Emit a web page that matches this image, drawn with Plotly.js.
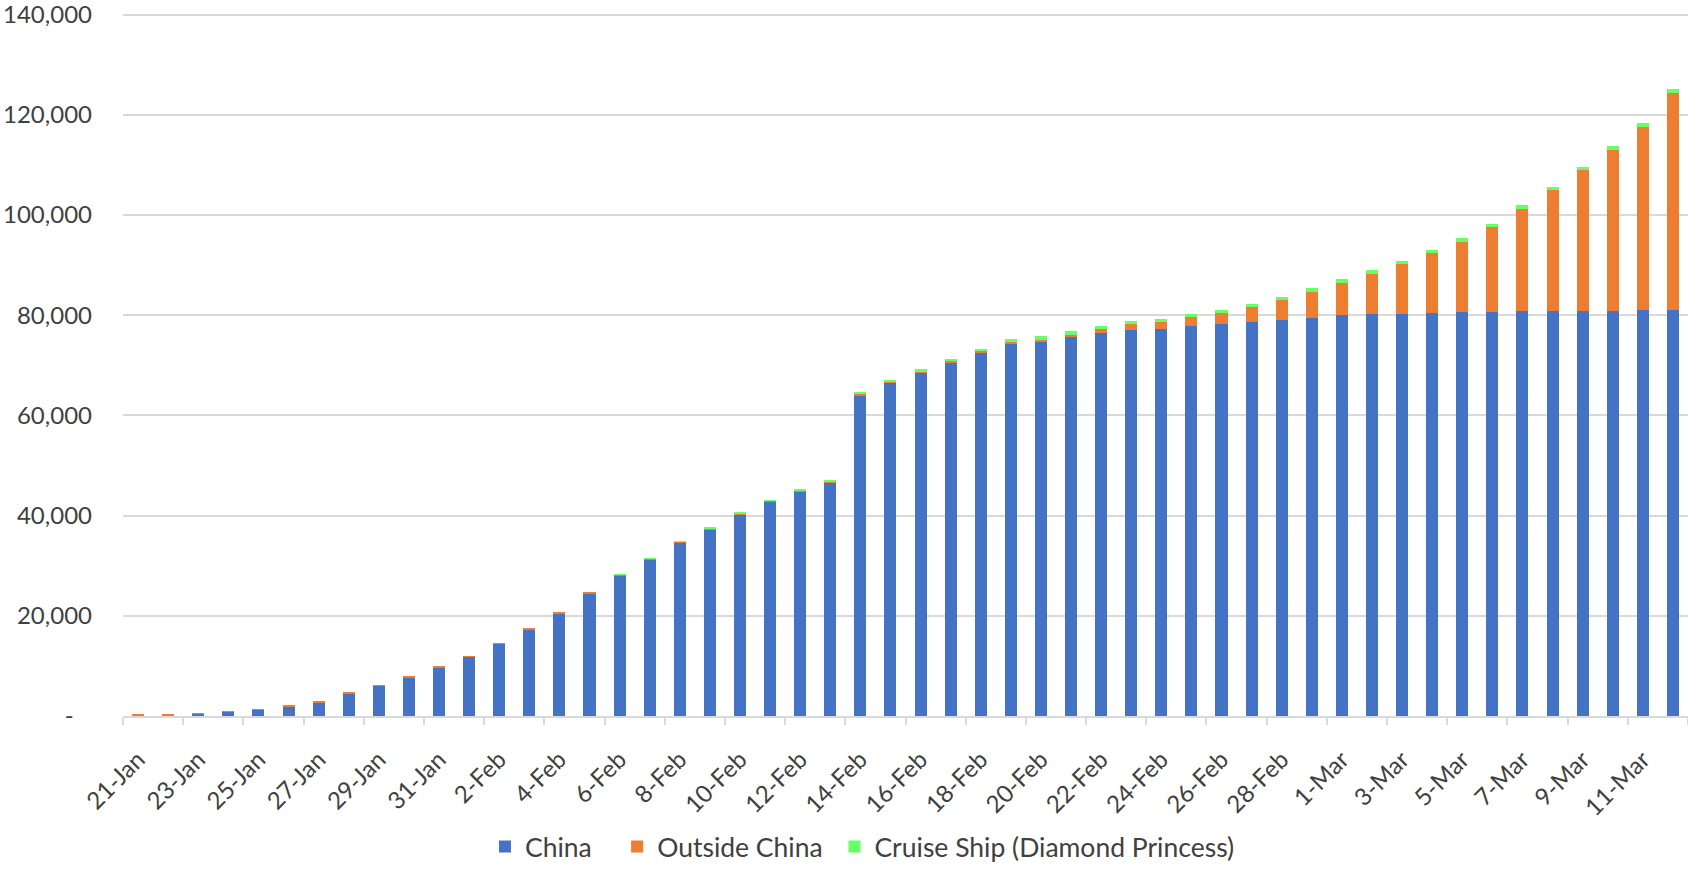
<!DOCTYPE html>
<html>
<head>
<meta charset="utf-8">
<script src="https://cdn.plot.ly/plotly-3.0.1.min.js"></script>
<style>
  html, body { margin: 0; padding: 0; background: #ffffff; }
  #chart { width: 1688px; height: 871px; }
</style>
</head>
<body>
<div id="chart"></div>
<script>
// Dates (categories)
const dates = [
  "21-Jan","22-Jan","23-Jan","24-Jan","25-Jan","26-Jan","27-Jan","28-Jan","29-Jan","30-Jan","31-Jan",
  "1-Feb","2-Feb","3-Feb","4-Feb","5-Feb","6-Feb","7-Feb","8-Feb","9-Feb","10-Feb",
  "11-Feb","12-Feb","13-Feb","14-Feb","15-Feb","16-Feb","17-Feb","18-Feb","19-Feb","20-Feb",
  "21-Feb","22-Feb","23-Feb","24-Feb","25-Feb","26-Feb","27-Feb","28-Feb","29-Feb",
  "1-Mar","2-Mar","3-Mar","4-Mar","5-Mar","6-Mar","7-Mar","8-Mar","9-Mar","10-Mar","11-Mar","12-Mar"
];

// Confirmed cases – China
const china = [
  0, 0, 571, 830, 1297, 1985, 2761, 4537, 5997, 7736, 9720,
  11821, 14411, 17238, 20471, 24363, 28060, 31211, 34598, 37251, 40235,
  42708, 44730, 46550, 63950, 66492, 68500, 70548, 72528, 74280, 74675,
  75569, 76392, 77041, 77262, 77780, 78191, 78630, 78959, 79394,
  79968, 80174, 80304, 80422, 80565, 80711, 80813, 80859, 80904, 80924, 80955, 80981
];

// Confirmed cases – Outside China (excluding cruise ship)
const outside = [
  282, 314, 10, 16, 23, 29, 37, 56, 68, 82, 106,
  132, 146, 153, 159, 191, 196, 209, 224, 237, 184,
  260, 266, 272, 322, 290, 328, 340, 262, 303, 439,
  566, 768, 1135, 1378, 1768, 2213, 2959, 3986, 5304,
  6464, 8068, 9860, 11962, 14062, 16785, 20414, 24031, 27978, 32082, 36668, 43371
];

// Confirmed cases – Cruise Ship (Diamond Princess)
const ship = [
  0, 0, 0, 0, 0, 0, 0, 0, 0, 0, 0,
  0, 0, 0, 0, 0, 20, 61, 64, 70, 135,
  135, 175, 175, 218, 285, 355, 454, 542, 621, 634,
  634, 634, 634, 691, 691, 705, 705, 705, 705,
  705, 706, 706, 706, 706, 696, 696, 696, 696, 696, 696, 696
];

// Y axis ticks
const yTickVals = [0, 20000, 40000, 60000, 80000, 100000, 120000, 140000];
const yTickText = ["-\u00a0\u00a0\u00a0", "20,000", "40,000", "60,000", "80,000", "100,000", "120,000", "140,000"];

const seriesNames = ["China", "Outside China", "Cruise Ship (Diamond Princess)"];
const legendPad = ["\u00a0\u00a0\u00a0", "\u00a0", ""];
const seriesColors = ["#4472C4", "#ED7D31", "#66FF66"];
const seriesValues = [china, outside, ship];

const traces = seriesValues.map((vals, i) => ({
  type: "bar",
  name: seriesNames[i] + legendPad[i],
  x: dates,
  y: vals,
  marker: { color: seriesColors[i], line: { width: 0 } },
  hoverinfo: "x+y+name"
}));

const textColor = "#404040";
const fontFamily = "Lato, 'Open Sans', sans-serif";

const layout = {
  width: 1688,
  height: 871,
  paper_bgcolor: "#ffffff",
  plot_bgcolor: "#ffffff",
  margin: { l: 123, r: 0, t: 13, b: 149, pad: 0 },
  barmode: "stack",
  bargap: 0.6,
  font: { family: fontFamily, size: 24, color: textColor },
  showlegend: true,
  legend: {
    orientation: "h",
    x: 0.4725, xanchor: "center",
    y: -0.186, yanchor: "middle",
    font: { family: fontFamily, size: 26.5, color: textColor },
    traceorder: "normal",
    itemclick: false
  },
  xaxis: {
    type: "category",
    range: [-0.5, dates.length - 0.5],
    tickmode: "linear",
    tick0: 0,
    dtick: 2,
    tickson: "boundaries",
    ticks: "outside",
    ticklen: 7,
    tickwidth: 2,
    tickcolor: "#d9d9d9",
    tickangle: -45,
    ticklabelstandoff: 18,
    tickfont: { family: fontFamily, size: 24, color: textColor },
    showline: true,
    linecolor: "#d9d9d9",
    linewidth: 2,
    showgrid: false,
    zeroline: false,
    fixedrange: true
  },
  yaxis: {
    range: [0, 140300],
    tickmode: "array",
    tickvals: yTickVals,
    ticktext: yTickText,
    tickfont: { family: fontFamily, size: 24, color: textColor },
    ticks: "",
    ticklabelstandoff: 30,
    ticklabeloverflow: "allow",
    showgrid: true,
    gridcolor: "#d9d9d9",
    gridwidth: 2,
    zeroline: false,
    showline: false,
    fixedrange: true
  }
};

Plotly.newPlot("chart", traces, layout, { displayModeBar: false });
</script>
</body>
</html>
